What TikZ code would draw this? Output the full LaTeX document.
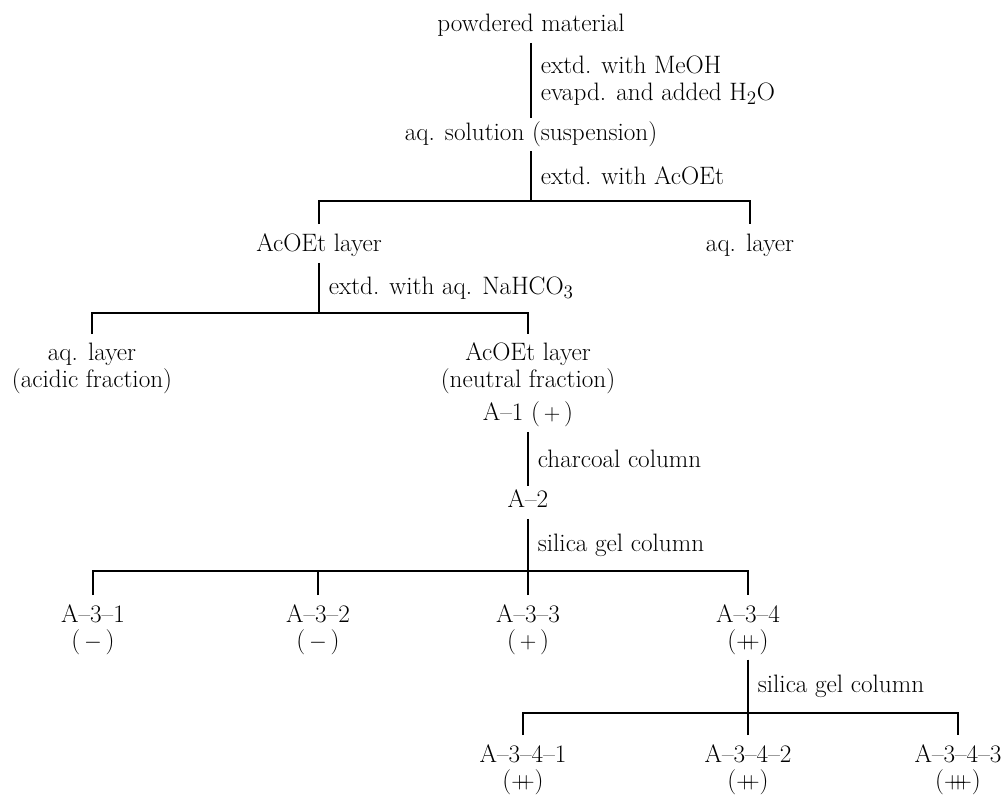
\documentclass[tikz,border=0pt]{standalone}
\usepackage{amsmath}
\usetikzlibrary{positioning}
\newcommand{\plustwo}{\ensuremath{\mathord{+}\mkern-7.5mu\mathord{+}}}
\newcommand{\plusthree}{\ensuremath{\mathord{+}\mkern-8.5mu\mathord{+}\mkern-8.5mu\mathord{+}}}
\begin{document}
\begin{tikzpicture}[x=0.0265cm,y=-0.0265cm,line width=0.8pt,
  every node/.style={font=\fontsize{19}{20}\selectfont},
  txt/.style={anchor=north,inner xsep=0pt,inner ysep=2pt,align=center,
    execute at begin node=\strut,execute at end node=\strut},
  cond/.style={anchor=west,align=left,inner sep=0pt,xshift=7pt},
  drop/.style={shorten <=4.5pt,shorten >=4.5pt},
  stub/.style={shorten <=4.5pt}]
  \useasboundingbox (0,0) rectangle (1007,800);
  \node[txt] (powder) at (531,10) {powdered material};
  \node[txt] (sol) at (531,118) {aq. solution (suspension)};
  \draw (powder) -- node[cond]{extd. with MeOH\\evapd. and added H$_2$O} (sol);
  \coordinate (j1) at (531,201);
  \draw (sol) -- node[cond]{extd. with AcOEt} (j1);
  \node[txt] (etoA) at (319,230) {AcOEt layer};
  \node[txt] (aqA) at (750,230) {aq. layer};
  \draw[drop] (etoA) |- (j1) -| (aqA);
  \coordinate (j2) at (319,313);
  \draw (etoA) -- node[cond]{extd. with aq. NaHCO$_3$} (j2);
  \node[txt] (aqB) at (92,340) {aq. layer\\(acidic fraction)};
  \node[txt] (etoB) at (528,340) {AcOEt layer\\(neutral fraction)\\[5pt]A--1 ($\,+\,$)};
  \draw[drop] (aqB) |- (j2) -| (etoB);
  \node[txt] (A2) at (528,486) {A--2};
  \draw (etoB) -- node[cond]{charcoal column} (A2);
  \coordinate (j3) at (528,571);
  \draw (A2) -- node[cond]{silica gel column} (j3);
  \node[txt] (a31) at (93,601) {A--3--1\\($\,-\,$)};
  \node[txt] (a32) at (318,601) {A--3--2\\($\,-\,$)};
  \node[txt] (a33) at (528,601) {A--3--3\\($\,+\,$)};
  \node[txt] (a34) at (748,601) {A--3--4\\(\plustwo)};
  \draw[drop] (a31) |- (j3) -| (a34);
  \draw[stub] (a32) -- (a32 |- j3);
  \draw[stub] (a33) -- (j3);
  \coordinate (j4) at (748,713);
  \draw (a34) -- node[cond]{silica gel column} (j4);
  \node[txt] (b1) at (523,741) {A--3--4--1\\(\plustwo)};
  \node[txt] (b2) at (748,741) {A--3--4--2\\(\plustwo)};
  \node[txt] (b3) at (958,741) {A--3--4--3\\(\plusthree)};
  \draw[drop] (b1) |- (j4) -| (b3);
  \draw[stub] (b2) -- (j4);
\end{tikzpicture}
\end{document}
